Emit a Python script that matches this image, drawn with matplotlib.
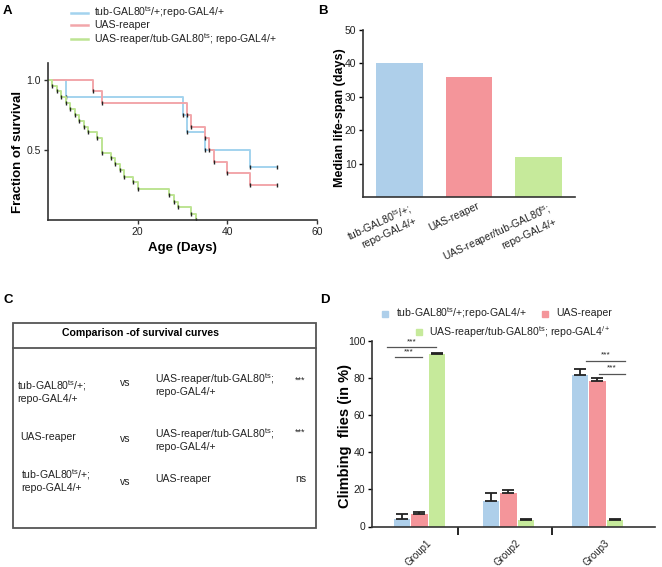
import numpy as np
import matplotlib
matplotlib.use('Agg')
import matplotlib.pyplot as plt
from matplotlib.patches import Rectangle
from matplotlib.lines import Line2D
from matplotlib.transforms import ScaledTranslation

plt.rcParams['font.family'] = ['Liberation Sans', 'DejaVu Sans']
plt.rcParams['mathtext.fontset'] = 'custom'
plt.rcParams['mathtext.rm'] = 'Liberation Sans'
plt.rcParams['mathtext.it'] = 'Liberation Sans'
plt.rcParams['mathtext.bf'] = 'Liberation Sans:bold'
plt.rcParams['axes.edgecolor'] = '#333333'

W, H = 662, 567

# --- data ---
genotypes = ['tub-GAL80$^{\\mathrm{ts}}$/+;repo-GAL4/+',
             'UAS-reaper',
             'UAS-reaper/tub-GAL80$^{\\mathrm{ts}}$; repo-GAL4/+']
line_colors = ['#a3d3ee', '#f2a6aa', '#bde493']
bar_colors = ['#aecfea', '#f4959a', '#c6ea9b']

# survival curves (A)
ctrl_days = [0, 4, 30, 31, 35, 45, 51]
ctrl_surv = [1.0, 0.875, 0.75, 0.625, 0.5, 0.375, 0.375]
reaper_days = [0, 10, 12, 31, 32, 35, 36, 37, 40, 45, 51]
reaper_surv = [1.0, 0.917, 0.833, 0.75, 0.667, 0.583, 0.5, 0.417, 0.333, 0.25, 0.25]
glia_days = [0, 1, 2, 3, 4, 5, 6, 7, 8, 9, 11, 12, 14, 15, 16, 17, 19, 20, 27, 28, 29, 32, 33]
glia_surv = [1.0, 0.958, 0.917, 0.875, 0.833, 0.792, 0.75, 0.708, 0.667, 0.625, 0.583, 0.48,
             0.44, 0.40, 0.36, 0.31, 0.27, 0.22, 0.18, 0.13, 0.09, 0.045, 0.0]

# median life span (B)
median_labels = ['tub-GAL80$^{\\mathrm{ts}}$/+;\nrepo-GAL4/+', 'UAS-reaper',
                 'UAS-reaper/tub-GAL80$^{\\mathrm{ts}}$;\nrepo-GAL4/+']
median_days = [40, 36, 12]

# comparison table (C)
comp_left = ['tub-GAL80$^{\\mathrm{ts}}$/+;\nrepo-GAL4/+', 'UAS-reaper', 'tub-GAL80$^{\\mathrm{ts}}$/+;\nrepo-GAL4/+']
comp_right = ['UAS-reaper/tub-GAL80$^{\\mathrm{ts}}$;\nrepo-GAL4/+', 'UAS-reaper/tub-GAL80$^{\\mathrm{ts}}$;\nrepo-GAL4/+', 'UAS-reaper']
comp_sig = ['***', '***', 'ns']

# climbing (D)
groups = ['Group1', 'Group2', 'Group3']
ctrl_climb = [4.2, 14.0, 81.7]
ctrl_err = [2.8, 4.2, 3.0]
reaper_climb = [6.8, 18.0, 78.6]
reaper_err = [0.9, 1.5, 1.3]
glia_climb = [92.8, 3.6, 3.6]
glia_err = [0.9, 0.3, 0.3]

fig = plt.figure(figsize=(W / 100, H / 100), dpi=100)


def px_axes(l, t, r, b):
    return fig.add_axes([l / W, 1 - b / H, (r - l) / W, (b - t) / H])


def style(ax):
    ax.spines['top'].set_visible(False)
    ax.spines['right'].set_visible(False)
    ax.spines['left'].set_linewidth(1.2)
    ax.spines['bottom'].set_linewidth(1.2)
    ax.set_facecolor('none')


# ---- A: survival ----
axA = px_axes(48, 63, 317, 220)
style(axA)
curves = [(ctrl_days, ctrl_surv), (reaper_days, reaper_surv), (glia_days, glia_surv)]
for (d, s), c in zip(curves, line_colors):
    axA.step(d, s, where='post', color=c, lw=1.4)
    axA.plot(d[1:], s[1:], ls='none', marker='|', ms=3, mew=1, color='#222222')
axA.set_xlim(0, 60)
axA.set_ylim(0, 1.12)
axA.set_xticks([20, 40, 60])
axA.set_yticks([0.5, 1.0])
axA.set_yticklabels(['0.5', '1.0'])
axA.tick_params(length=3, width=1, labelsize=7.5, pad=2, colors='#333333', labelcolor='#222222')

# ---- B: median life span ----
axB = px_axes(363.3, 30, 575, 197)
style(axB)
xb = np.arange(len(median_days))
axB.bar(xb, median_days, width=0.67, color=bar_colors)
axB.set_xlim(-0.52, 2.52)
axB.set_ylim(0, 50)
axB.set_yticks([10, 20, 30, 40, 50])
axB.set_xticks(xb)
axB.set_xticklabels(median_labels, rotation=25, ha='right', rotation_mode='anchor', ma='right')
axB.tick_params(axis='y', length=3, width=1, labelsize=7.5, pad=2, labelcolor='#222222')
axB.tick_params(axis='x', length=0, labelsize=7.5, pad=3, labelcolor='#222222')
for lbl in axB.get_xticklabels():
    lbl.set_transform(lbl.get_transform() + ScaledTranslation(0.08, 0, fig.dpi_scale_trans))

# ---- D: climbing ----
axD = px_axes(371.7, 341, 655, 526.5)
style(axD)
xd = np.arange(len(groups))
off, bw = 0.197, 0.185
ekw = dict(elinewidth=1.3, capthick=1.3, ecolor='#222222')
for vals, errs, c, dx in [(ctrl_climb, ctrl_err, bar_colors[0], -off),
                          (reaper_climb, reaper_err, bar_colors[1], 0),
                          (glia_climb, glia_err, bar_colors[2], off)]:
    axD.bar(xd + dx, vals, width=bw, color=c,
            yerr=[np.zeros(len(errs)), errs], capsize=4.5, error_kw=ekw)
axD.set_xlim(-0.535, 2.648)
axD.set_ylim(0, 100)
axD.set_yticks([0, 20, 40, 60, 80, 100])
axD.set_xticks(xd)
axD.set_xticklabels(groups, rotation=45, ha='right', rotation_mode='anchor')
axD.set_xticks([0.44, 1.49], minor=True)
axD.tick_params(axis='x', which='major', length=0, labelsize=7, pad=8, labelcolor='#222222')
axD.tick_params(axis='x', which='minor', length=6, width=1.2, direction='out')
axD.tick_params(axis='y', length=3, width=1, labelsize=7.5, pad=1.5, labelcolor='#222222')
for lbl in axD.get_xticklabels():
    lbl.set_transform(lbl.get_transform() + ScaledTranslation(0.07, 0, fig.dpi_scale_trans))

# significance lines
sig_lines = [(-0.36, 0.19, 96.6), (-0.27, 0.03, 91.2), (1.87, 2.31, 89.2), (2.02, 2.31, 82.2)]
for x0, x1, y in sig_lines:
    axD.plot([x0, x1], [y, y], color='#555555', lw=0.9, clip_on=False)
    axD.text((x0 + x1) / 2, y + 1.2, '***', ha='center', va='bottom', fontsize=6, color='#222222')

# ---- overlay for free text / panel C ----
ov = fig.add_axes([0, 0, 1, 1])
ov.set_xlim(0, W)
ov.set_ylim(H, 0)
ov.axis('off')

for lab, x, y in [('A', 3, 11), ('B', 318, 11), ('C', 3, 300), ('D', 320, 300)]:
    ov.text(x, y, lab, fontsize=9.5, fontweight='bold', ha='left', va='center')

# A legend and labels
for i, (g, c) in enumerate(zip(genotypes, line_colors)):
    y = [12.5, 25, 39][i]
    ov.add_line(Line2D([71, 88], [y, y], color=c, lw=1.8))
    ov.text(94, y, g, fontsize=7.6, ha='left', va='center', color='#222222')
ov.text(182, 248, 'Age (Days)', fontsize=9.5, fontweight='bold', ha='center', va='center')
ov.text(18.5, 152, 'Fraction of survival', fontsize=9.5, fontweight='bold', rotation=90,
        ha='center', va='center')

# B label
ov.text(339.5, 117.5, 'Median life-span (days)', fontsize=9, fontweight='bold', rotation=90,
        ha='center', va='center')

# C table
ov.add_patch(Rectangle((13.3, 323.3), 302.7, 204.4, fill=False, ec='#555555', lw=1.3))
ov.add_line(Line2D([13.3, 316], [348.3, 348.3], color='#555555', lw=1.3))
ov.text(141, 333.5, 'Comparison -of survival curves', fontsize=7.6, fontweight='bold',
        ha='center', va='center')
row_y = [391, 437, 480]
left_x = [17, 20, 21]
right_y = [384, 439, 479]
for i in range(len(comp_sig)):
    ov.text(left_x[i], row_y[i], comp_left[i], fontsize=7.6, ha='left', va='center',
            linespacing=1.15, color='#222222')
    ov.text(120, [383, 439, 482][i], 'vs', fontsize=7.6, ha='left', va='center', color='#222222')
    ov.text(155, right_y[i], comp_right[i], fontsize=7.6, ha='left', va='center',
            linespacing=1.0, color='#222222')
    ov.text(295, [380, 432, 479][i], comp_sig[i], fontsize=6.5 if comp_sig[i] == '***' else 7.6,
            ha='left', va='center', color='#222222')

# D legend and label
leg_items = [(385, 396, 313.5), (545, 556.7, 313.5), (419.3, 429.3, 331.7)]
leg_text = [genotypes[0], genotypes[1], 'UAS-reaper/tub-GAL80$^{\\mathrm{ts}}$; repo-GAL4$^{/+}$']
for (mx, tx, y), t, c in zip(leg_items, leg_text, bar_colors):
    ov.plot([mx], [y], marker='s', ms=5, color=c, ls='none')
    ov.text(tx, y, t, fontsize=7.6, ha='left', va='center', color='#222222')
ov.text(345.5, 436, 'Climbing  flies (in %)', fontsize=10.5, fontweight='bold', rotation=90,
        ha='center', va='center')

fig.savefig('out.png', dpi=100)
